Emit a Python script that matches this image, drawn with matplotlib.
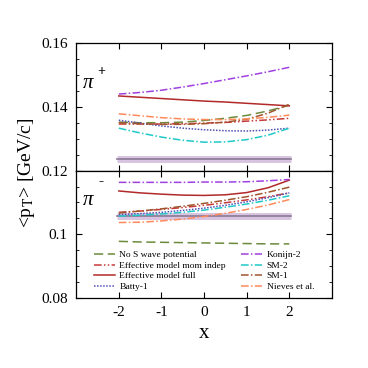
import matplotlib
matplotlib.use("Agg")
from matplotlib import pyplot as plt
from matplotlib.ticker import MultipleLocator
import numpy as np

plt.rcParams['font.family'] = ['Liberation Serif', 'DejaVu Serif']
plt.rcParams['mathtext.fontset'] = 'stix'

x = [-2, -1.5, -1, -0.5, 0, 0.5, 1, 1.5, 2]

labels = ["No S wave potential", "Effective model mom indep", "Effective model full", "Batty-1",
          "Konijn-2", "SM-2", "SM-1", "Nieves et al."]

# pi+ panel
plus = {
    "No S wave potential":       [0.1352, 0.1350, 0.1350, 0.1352, 0.1357, 0.1364, 0.1373, 0.1387, 0.1405],
    "Effective model mom indep": [0.1346, 0.1346, 0.1346, 0.1347, 0.1349, 0.1351, 0.1355, 0.1359, 0.1364],
    "Effective model full":      [0.1434, 0.1430, 0.1426, 0.1422, 0.1418, 0.1415, 0.1411, 0.1407, 0.1403],
    "Batty-1":                   [0.1358, 0.1349, 0.1340, 0.1333, 0.1328, 0.1325, 0.1324, 0.1327, 0.1333],
    "Konijn-2":                  [0.1440, 0.1445, 0.1452, 0.1462, 0.1473, 0.1485, 0.1497, 0.1510, 0.1524],
    "SM-2":                      [0.1333, 0.1318, 0.1305, 0.1295, 0.1289, 0.1290, 0.1297, 0.1311, 0.1333],
    "SM-1":                      [0.1350, 0.1347, 0.1345, 0.1345, 0.1347, 0.1352, 0.1361, 0.1380, 0.1408],
    "Nieves et al.":             [0.1378, 0.1372, 0.1366, 0.1362, 0.1360, 0.1360, 0.1362, 0.1367, 0.1374],
}
# pi- panel
minus = {
    "No S wave potential":       [0.0978, 0.0976, 0.0975, 0.0974, 0.0973, 0.0972, 0.0971, 0.0970, 0.0970],
    "Effective model mom indep": [0.1069, 0.1073, 0.1078, 0.1084, 0.1091, 0.1099, 0.1108, 0.1118, 0.1130],
    "Effective model full":      [0.1136, 0.1130, 0.1126, 0.1123, 0.1122, 0.1124, 0.1131, 0.1146, 0.1170],
    "Batty-1":                   [0.1062, 0.1065, 0.1069, 0.1075, 0.1082, 0.1091, 0.1102, 0.1115, 0.1130],
    "Konijn-2":                  [0.1163, 0.1163, 0.1163, 0.1163, 0.1164, 0.1164, 0.1165, 0.1168, 0.1172],
    "SM-2":                      [0.1057, 0.1060, 0.1064, 0.1069, 0.1076, 0.1085, 0.1095, 0.1107, 0.1121],
    "SM-1":                      [0.1067, 0.1073, 0.1080, 0.1088, 0.1097, 0.1107, 0.1118, 0.1132, 0.1148],
    "Nieves et al.":             [0.1037, 0.1038, 0.1042, 0.1048, 0.1056, 0.1066, 0.1078, 0.1092, 0.1109],
}
band_x = [-2.05, 2.05]
band_plus = 0.1237
band_minus = 0.1056

styles = {
    "No S wave potential":       dict(color="#6b8a3c", ls=(0, (6, 3))),
    "Effective model mom indep": dict(color="#c83a3a", ls=(0, (5, 1.5, 1, 1.5, 1, 1.5))),
    "Effective model full":      dict(color="#b22a2a", ls="-"),
    "Batty-1":                   dict(color="#5050b4", ls=(0, (1, 1))),
    "Konijn-2":                  dict(color="#a040e0", ls=(0, (5, 1.5, 1, 1.5))),
    "SM-2":                      dict(color="#20c8c8", ls=(0, (5, 1.5, 1, 1.5))),
    "SM-1":                      dict(color="#a0552d", ls=(0, (5, 1.5, 1, 1.5))),
    "Nieves et al.":             dict(color="#ff8a5c", ls=(0, (5, 1.5, 1, 1.5))),
}

fig, (ax1, ax2) = plt.subplots(2, 1, figsize=(3.68, 3.68), dpi=100, sharex=True)
fig.subplots_adjust(left=0.207, right=0.902, top=0.883, bottom=0.19, hspace=0)

for ax, data, band in [(ax1, plus, band_plus), (ax2, minus, band_minus)]:
    ax.plot(band_x, [band, band], color="#d8c4e0", lw=5, solid_capstyle='butt')
    ax.plot(band_x, [band, band], color="#8a7a96", lw=1.2)
    for lab in labels:
        ax.plot(x, data[lab], lw=1.1, label=lab, **styles[lab])
    ax.set_xlim(-3, 3)
    ax.yaxis.set_minor_locator(MultipleLocator(0.005))
    ax.tick_params(direction='in', top=True, right=True, which='both', labelsize=11)
    ax.tick_params(which='major', length=4, pad=6)
    ax.tick_params(which='minor', length=2)
    for s in ax.spines.values():
        s.set_linewidth(0.9)

ax1.set_ylim(0.12, 0.16)
ax1.set_yticks([0.12, 0.14, 0.16])
ax1.set_yticklabels(["0.12", "0.14", "0.16"])
ax2.set_ylim(0.08, 0.12)
ax2.set_yticks([0.08, 0.1])
ax2.set_yticklabels(["0.08", "0.1"])

ax1.text(-2.84, 0.1459, "π", fontsize=15, style='italic')
ax1.text(-2.50, 0.1500, "+", fontsize=10, fontweight='bold')
ax2.text(-2.84, 0.1093, "π", fontsize=15, style='italic')
ax2.text(-2.48, 0.1153, "-", fontsize=11, fontweight='bold')

ax2.set_xticks([-2, -1, 0, 1, 2])
ax2.set_xticklabels(["-2", "-1", "0", "1", "2"])
ax2.set_xlabel("x", fontsize=15, va='center')
ax2.xaxis.set_label_coords(0.5, -0.28)
fig.text(0.072, 0.53, r"<p$_\mathrm{T}$> [GeV/c]", rotation=90, va='center', ha='center', fontsize=14)

ax2.legend(loc='lower center', ncol=2, frameon=False, fontsize=6.8, handlelength=2.2,
           columnspacing=1.6, labelspacing=0.2, handletextpad=0.5, bbox_to_anchor=(0.5, -0.01))

fig.savefig("out.png", dpi=100)
